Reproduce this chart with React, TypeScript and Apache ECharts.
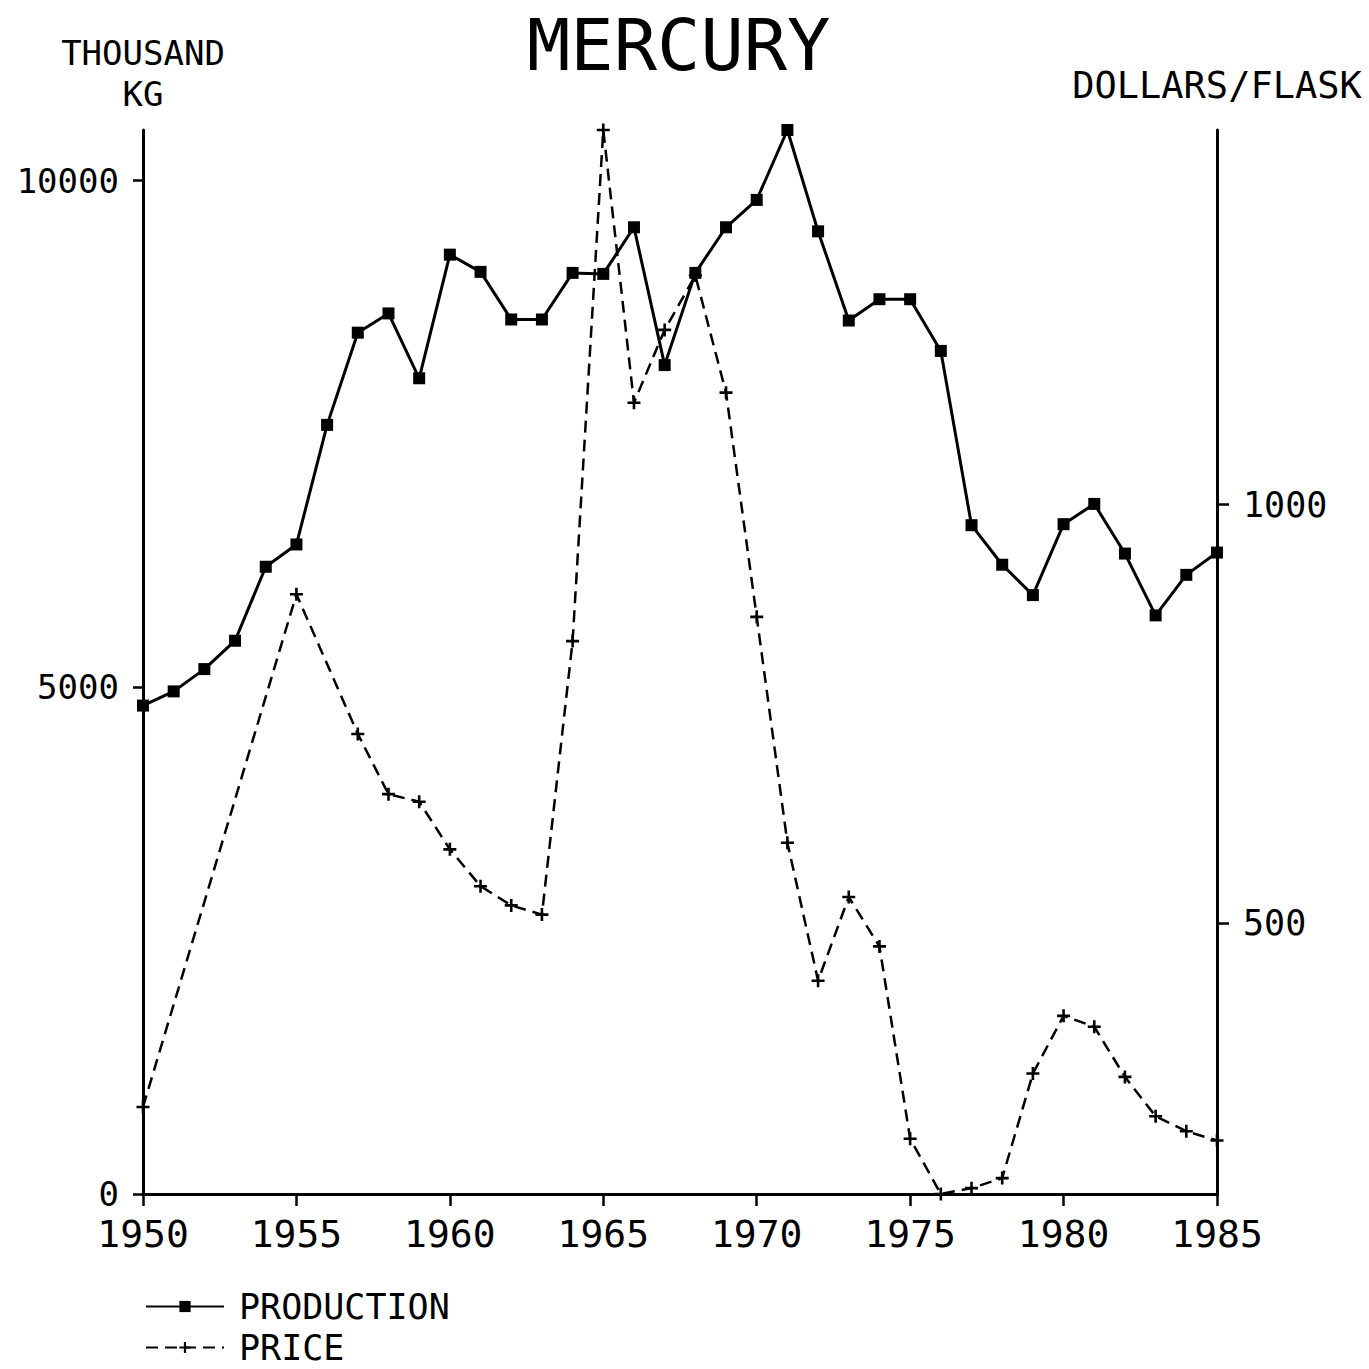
import React, { useEffect, useRef } from "react";
import * as echarts from "echarts";

const years = [
  1950, 1951, 1952, 1953, 1954, 1955, 1956, 1957, 1958, 1959,
  1960, 1961, 1962, 1963, 1964, 1965, 1966, 1967, 1968, 1969,
  1970, 1971, 1972, 1973, 1974, 1975, 1976, 1977, 1978, 1979,
  1980, 1981, 1982, 1983, 1984, 1985,
];
const production = [
  4820, 4960, 5180, 5460, 6190, 6410, 7590, 8500, 8690, 8050,
  9270, 9100, 8630, 8630, 9090, 9080, 9540, 8180, 9090, 9540,
  9810, 10500, 9500, 8620, 8830, 8830, 8320, 6600, 6210, 5910,
  6610, 6810, 6320, 5710, 6110, 6330,
];
const priceYears = [
  1950, 1955, 1957, 1958, 1959, 1960, 1961, 1962, 1963, 1964,
  1965, 1966, 1967, 1968, 1969, 1970, 1971, 1972, 1973, 1974,
  1975, 1976, 1977, 1978, 1979, 1980, 1981, 1982, 1983, 1984, 1985,
];
const price = [
  280, 893, 726, 654, 645, 588, 544, 521, 510, 837,
  1448, 1122, 1209, 1274, 1134, 866, 596, 431, 531, 472,
  242, 176, 183, 195, 320, 389, 376, 316, 269, 251, 240,
];
const leftTicks = [0, 5000, 10000];
const rightTicks = [500, 1000];

const FONT = "'DejaVu Sans Mono', 'Liberation Mono', monospace";
const PLUS = "path://M5,0H7.5V5H12.5V7.5H7.5V12.5H5V7.5H0V5H5Z";
const plain = (v: number) => String(Math.round(v));

export default function App() {
  const ref = useRef<HTMLDivElement>(null);
  useEffect(() => {
    const chart = echarts.init(ref.current!, null, { renderer: "svg" });
    const text = { fontFamily: FONT, color: "#000" };
    const legendBase = {
      orient: "vertical",
      left: 140,
      itemWidth: 78,
      itemHeight: 14,
      selectedMode: false,
      textStyle: { ...text, fontSize: 35, lineHeight: 35, padding: [0, 0, 0, 10] },
    };
    chart.setOption({
      animation: false,
      backgroundColor: "#fff",
      title: {
        text: "MERCURY",
        left: 522,
        top: 4,
        textStyle: { ...text, fontSize: 72, fontWeight: "normal" },
      },
      legend: [
        { ...legendBase, top: 1284, data: ["PRODUCTION"] },
        { ...legendBase, top: 1325, data: ["PRICE"] },
      ],
      grid: { left: 143, right: 152, top: 130, bottom: 175, outerBoundsMode: "none", containLabel: false },
      xAxis: {
        type: "value",
        min: 1950,
        max: 1985,
        interval: 5,
        splitLine: { show: false },
        axisLine: { show: true, onZero: false, lineStyle: { color: "#000", width: 3 } },
        axisTick: { show: true, length: 12, lineStyle: { color: "#000", width: 2.5 } },
        axisLabel: { ...text, fontSize: 38, lineHeight: 38, margin: 21, formatter: plain },
      },
      yAxis: [
        {
          type: "value",
          position: "left",
          min: 0,
          max: (v: any) => v.max,
          name: "THOUSAND\nKG",
          nameLocation: "end",
          nameGap: 16,
          nameTextStyle: {
            ...text,
            fontSize: 34,
            lineHeight: 41,
            align: "center",
            verticalAlign: "bottom",
          },
          splitLine: { show: false },
          axisLine: { show: true, lineStyle: { color: "#000", width: 3 } },
          axisTick: {
            show: true,
            length: 10,
            customValues: leftTicks,
            lineStyle: { color: "#000", width: 2.5 },
          },
          axisLabel: {
            ...text,
            fontSize: 34,
            lineHeight: 28,
            margin: 24,
            customValues: leftTicks,
            formatter: plain,
          },
        },
        {
          type: "value",
          position: "right",
          min: (v: any) => v.min,
          max: (v: any) => v.max,
          name: "DOLLARS/FLASK",
          nameLocation: "end",
          nameGap: 26,
          nameTextStyle: {
            ...text,
            fontSize: 37,
            lineHeight: 37,
            align: "center",
            verticalAlign: "bottom",
          },
          splitLine: { show: false },
          axisLine: { show: true, lineStyle: { color: "#000", width: 3 } },
          axisTick: {
            show: true,
            length: 12,
            customValues: rightTicks,
            lineStyle: { color: "#000", width: 2.5 },
          },
          axisLabel: {
            ...text,
            fontSize: 35,
            lineHeight: 28,
            margin: 26,
            customValues: rightTicks,
            formatter: plain,
          },
        },
      ],
      series: [
        {
          name: "PRODUCTION",
          type: "line",
          yAxisIndex: 0,
          clip: false,
          symbol: "rect",
          symbolSize: 12,
          data: years.map((y, i) => [y, production[i]]),
          lineStyle: { color: "#000", width: 3 },
          itemStyle: { color: "#000" },
        },
        {
          name: "PRICE",
          type: "line",
          yAxisIndex: 1,
          clip: false,
          symbol: PLUS,
          symbolSize: 13,
          data: priceYears.map((y, i) => [y, price[i]]),
          lineStyle: { color: "#000", width: 2.5, type: [12, 7] },
          itemStyle: { color: "#000" },
        },
      ],
    });
    return () => chart.dispose();
  }, []);
  return (
    <div
      ref={ref}
      style={{ position: "absolute", left: 0, top: 0, width: 1369, height: 1369 }}
    />
  );
}
